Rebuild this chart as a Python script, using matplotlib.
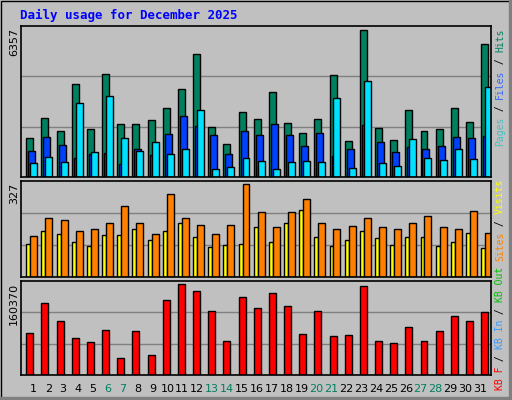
import matplotlib
matplotlib.use("Agg")
import matplotlib.pyplot as plt
from matplotlib.patches import Rectangle

days = list(range(1, 32))
weekend_days = [6, 7, 13, 14, 20, 21, 27, 28]

hits = [1696, 2559, 1998, 4027, 2085, 4458, 2300, 2300, 2473, 2991, 3811, 5321, 2171, 1437, 2818, 2516,
        3681, 2343, 1912, 2516, 4415, 1567, 6357, 2128, 1610, 2905, 1998, 2085, 2991, 2387, 5753]
files = [1135, 1739, 1394, 833, 1006, 1049, 574, 1221, 962, 1869, 2646, 2214, 1826, 1006, 1998, 1826,
         2300, 1826, 1351, 1912, 919, 1221, 2257, 1524, 1092, 1308, 1221, 1351, 1739, 1696, 1782]
pages = [617, 876, 660, 3207, 1092, 3509, 1696, 1135, 1524, 1006, 1221, 2905, 358, 445, 833, 704,
         358, 660, 704, 660, 3423, 401, 4156, 617, 488, 1653, 833, 747, 1221, 790, 3897]
visits = [118, 164, 153, 125, 111, 150, 150, 171, 132, 164, 192, 143, 107, 114, 118, 175,
          125, 189, 235, 143, 111, 132, 164, 139, 114, 143, 143, 111, 125, 157, 104]
sites = [146, 207, 203, 164, 168, 192, 249, 192, 153, 292, 210, 185, 153, 185, 327, 228,
         175, 228, 277, 189, 171, 181, 210, 175, 171, 189, 214, 177, 168, 234, 157]
kb = [74000, 126900, 95150, 65200, 58150, 79300, 29950, 77500, 35240, 132150, 160370, 148000, 112800,
      59900, 137400, 118050, 144500, 121600, 72250, 112800, 68700, 70500, 156800, 59900, 56400, 84600,
      59900, 77500, 104000, 95150, 111000]

W, H = 512, 400
BG = "#C0C0C0"
fig = plt.figure(figsize=(W / 100, H / 100), dpi=100, facecolor=BG)
fig.patches.append(Rectangle((0.5 / W, 0.5 / H), 1 - 1 / W, 1 - 1 / H, transform=fig.transFigure,
                             fill=False, edgecolor="black", lw=1))
fig.patches.append(Rectangle((1 - 3 / W, 0), 3 / W, 1, transform=fig.transFigure, color="#808080"))
fig.patches.append(Rectangle((0, 0), 1, 3 / H, transform=fig.transFigure, color="#808080"))


def make_ax(top, bottom):
    ax = fig.add_axes([21 / W, 1 - bottom / H, 470 / W, (bottom - top) / H])
    ax.set_facecolor(BG)
    ax.set_xlim(0, 31)
    ax.set_xticks([])
    ax.set_yticks([])
    for s in ax.spines.values():
        s.set_linewidth(1.2)
    return ax


def grid(ax, top):
    ax.set_ylim(0, top)
    for f in (1 / 3, 2 / 3):
        ax.axhline(top * f, color="#808080", lw=1, zorder=0)


x0 = [d - 1 for d in days]
bw = 0.46
kw = dict(align="edge", edgecolor="black", linewidth=1)

ax1 = make_ax(26, 177)
grid(ax1, 6517)
ax1.bar([x + 0.35 for x in x0], hits, bw, color="#00805F", **kw)
ax1.bar([x + 0.48 for x in x0], files, bw, color="#0040FF", **kw)
ax1.bar([x + 0.61 for x in x0], pages, bw, color="#00E0FF", **kw)

ax2 = make_ax(181, 277)
grid(ax2, 339)
ax2.bar([x + 0.35 for x in x0], visits, 0.26, color="#FFFF00", **kw)
ax2.bar([x + 0.61 for x in x0], sites, bw, color="#FF8000", **kw)

ax3 = make_ax(281, 375)
grid(ax3, 165640)
ax3.bar([x + 0.35 for x in x0], kb, bw, color="#FF0000", **kw)

for d in days:
    px = 33.3 + (d - 1) * 14.9
    fig.text(px / W, 1 - 389 / H, str(d), ha="center", va="center", fontsize=8,
             family="DejaVu Sans", color="#008060" if d in weekend_days else "black")

fig.text(20 / W, 1 - 15 / H, "Daily usage for December 2025", ha="left", va="center",
         fontsize=9, family="DejaVu Sans Mono", weight="bold", color="#0000FF")

for label, y in (("6357", 28), ("327", 183), ("160370", 283)):
    fig.text(14 / W, 1 - y / H, label, rotation=90, ha="center", va="top", fontsize=8,
             family="DejaVu Sans")


def vlabel(pieces, y_start):
    y = y_start
    for txt, col in pieces:
        fig.text(500 / W, 1 - y / H, txt, rotation=90, ha="center", va="bottom", fontsize=7,
                 family="DejaVu Sans Mono", color=col)
        y -= len(txt) * 5.85


vlabel([("Pages", "#40C0C0"), (" / ", "black"), ("Files", "#3366FF"), (" / ", "black"),
        ("Hits", "#00805F")], 146)
vlabel([("KB F", "#FF0000"), (" / ", "black"), ("KB In", "#3399FF"), (" / ", "black"),
        ("KB Out", "#00C000"), (" ", "black"), ("Sites", "#FF8000"), (" / ", "black"),
        ("Visits", "#FFFF00")], 390)

fig.savefig("out.png", dpi=100, facecolor=BG)
